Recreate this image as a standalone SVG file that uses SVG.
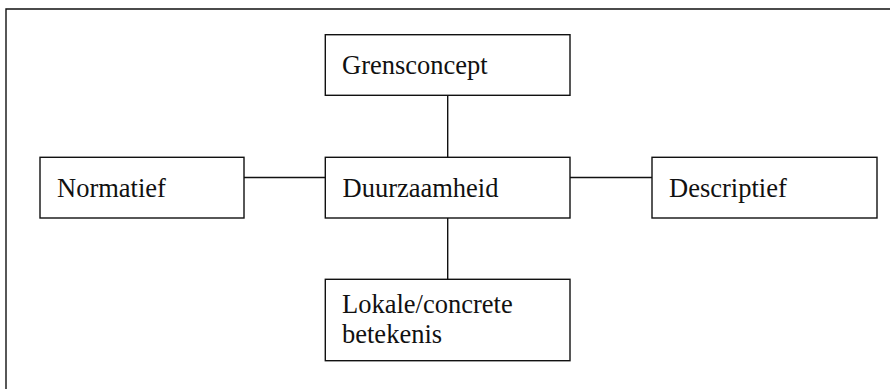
<svg xmlns="http://www.w3.org/2000/svg" width="890" height="389" viewBox="0 0 890 389">
<style>
.box{fill:#fff;stroke:#111;stroke-width:1.4}
.t{font-family:"Liberation Serif","Times New Roman",serif;font-size:26.5px;fill:#111}
.c{stroke:#111;stroke-width:1.4;fill:none}
</style>
<rect width="890" height="389" fill="#fff"/>
<g id="frame"><path class="c" d="M6,389 V9 H890" stroke="#333"/></g>
<g id="connectors">
<line class="c" x1="447.7" y1="95.3" x2="447.7" y2="157.3"/>
<line class="c" x1="447.7" y1="218" x2="447.7" y2="279.3"/>
<line class="c" x1="244" y1="177.5" x2="325.3" y2="177.5"/>
<line class="c" x1="570" y1="177.5" x2="652" y2="177.5"/>
</g>
<g id="grensconcept"><rect class="box" x="325.3" y="34.7" width="244.7" height="60.6"/><text class="t" x="342" y="74">Grensconcept</text></g>
<g id="normatief"><rect class="box" x="40" y="157.3" width="204" height="60.7"/><text class="t" x="57" y="196.5">Normatief</text></g>
<g id="duurzaamheid"><rect class="box" x="325.3" y="157.3" width="244.7" height="60.7"/><text class="t" x="342.5" y="196.5">Duurzaamheid</text></g>
<g id="descriptief"><rect class="box" x="652" y="157.3" width="225" height="60.7"/><text class="t" x="669" y="196.5">Descriptief</text></g>
<g id="lokale"><rect class="box" x="325.3" y="279.3" width="244.7" height="81.4"/><text class="t" x="342" y="313">Lokale/concrete</text><text class="t" x="342" y="343">betekenis</text></g>
</svg>
